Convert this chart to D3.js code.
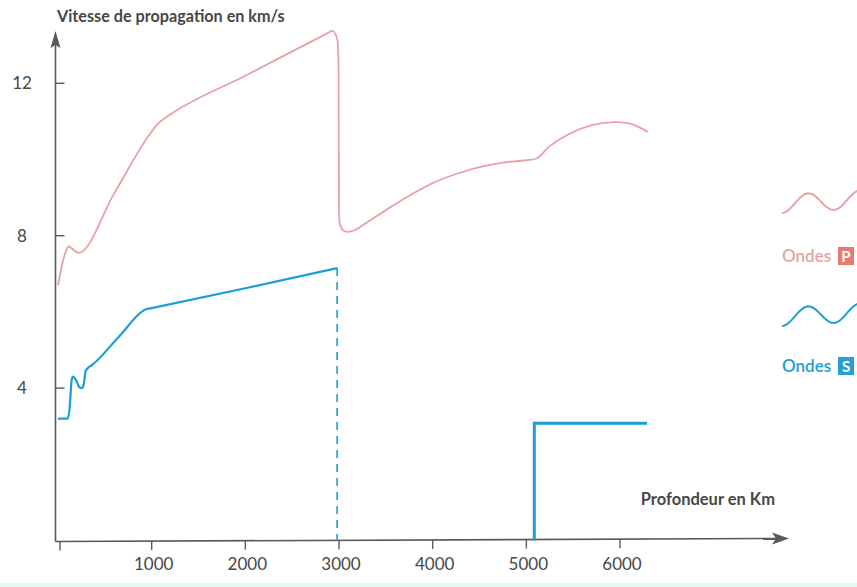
<!DOCTYPE html>
<html><head><meta charset="utf-8">
<script src="https://cdn.jsdelivr.net/npm/d3@7"></script>
<style>
html,body{margin:0;padding:0;background:#fff;}
svg{display:block;}
</style></head>
<body>
<svg id="chart" width="857" height="587"></svg>
<script>
// ---- data ----
const yTickValues = [4, 8, 12];
const yTickLabels = ["4", "8", "12"];
const xTickValues = [0, 1000, 2000, 3000, 4000, 5000, 6000];
const xTickLabels = ["", "1000", "2000", "3000", "4000", "5000", "6000"];
const pDepth = [0, 40, 85, 112, 140, 219, 600, 990, 1060, 1150, 1222, 2000, 2890, 2930, 2960, 2985, 2995, 3000, 3010, 3040, 3085, 3150, 3300, 3550, 3800, 4000, 4250, 4500, 4750, 5000, 5100, 5250, 5440, 5700, 5940, 6100, 6200, 6300];
const pSpeed = [6.7, 7.2, 7.6, 7.72, 7.68, 7.55, 9.11, 10.7, 10.92, 11.1, 11.22, 12.2, 13.33, 13.38, 13.3, 13.1, 12.6, 8.6, 8.3, 8.15, 8.1, 8.13, 8.35, 8.75, 9.12, 9.38, 9.62, 9.8, 9.92, 9.98, 10.02, 10.35, 10.65, 10.9, 10.98, 10.95, 10.85, 10.72];
const sDepth = [0, 105, 125, 145, 160, 190, 230, 255, 275, 295, 330, 360, 650, 940, 1000, 2000, 2980];
const sSpeed = [3.2, 3.2, 3.5, 4.2, 4.3, 4.22, 4.02, 4.0, 4.1, 4.45, 4.55, 4.6, 5.35, 6.07, 6.1, 6.62, 7.15];
const sCoreDepth = [5085, 5085, 6290];
const sCoreSpeed = [0, 3.08, 3.08];
const sGapDepth = [2980, 2980];
const sGapSpeed = [7.15, 0];

const svg = d3.select("#chart");
const x = d3.scaleLinear().domain([0, 6000]).range([58, 620]);
const y = d3.scaleLinear().domain([0, 12]).range([540.5, 83.3]);

const pink = "#e8a1a4", blue = "#1a9dd8", axisCol = "#5a5a5a", textCol = "#474747";

// bottom strip
svg.append("rect").attr("x", 0).attr("y", 583).attr("width", 857).attr("height", 4).attr("fill", "#e2f8f5");

// axes
const ox = x(0) - 2.5, oy = y(0) + 1;
svg.append("line").attr("x1", ox).attr("x2", ox).attr("y1", oy).attr("y2", 44)
  .attr("stroke", axisCol).attr("stroke-width", 1.6);
svg.append("path").attr("d", `M${ox},31 L${ox-5},48 L${ox},45 L${ox+5},48 Z`).attr("fill", axisCol);
svg.append("line").attr("x1", ox).attr("x2", 778).attr("y1", oy).attr("y2", oy - 3)
  .attr("stroke", axisCol).attr("stroke-width", 1.6);
svg.append("path").attr("d", `M789,${oy-3} L772,${oy-9} L776,${oy-3} L772,${oy+3} Z`).attr("fill", axisCol);

// y ticks
yTickValues.forEach((v, i) => {
  svg.append("line").attr("x1", ox).attr("x2", ox + 9).attr("y1", y(v)).attr("y2", y(v))
    .attr("stroke", axisCol).attr("stroke-width", 1.4);
  svg.append("text").attr("x", 22).attr("y", y(v) + 6).attr("text-anchor", "middle")
    .attr("font-family", "Lato").attr("font-size", 17).attr("fill", textCol).text(yTickLabels[i]);
});
// x ticks
xTickValues.forEach((v, i) => {
  const yy = oy - 3 * (x(v) - ox) / (778 - ox);
  svg.append("line").attr("x1", x(v) + (i === 0 ? 2 : 0)).attr("x2", x(v) + (i === 0 ? 2 : 0)).attr("y1", yy).attr("y2", yy + 9)
    .attr("stroke", axisCol).attr("stroke-width", 1.4);
  svg.append("text").attr("x", x(v) + 2).attr("y", 570).attr("text-anchor", "middle")
    .attr("font-family", "Lato").attr("font-size", 17).attr("fill", textCol).text(xTickLabels[i]);
});

// titles
svg.append("text").attr("x", 57).attr("y", 22).attr("font-family", "Lato").attr("font-weight", "bold")
  .attr("font-size", 16.2).attr("fill", textCol).text("Vitesse de propagation en km/s");
svg.append("text").attr("x", 775).attr("y", 505).attr("text-anchor", "end").attr("font-family", "Lato").attr("font-weight", "bold")
  .attr("font-size", 16.5).attr("fill", textCol).text("Profondeur en Km");

// curves
const line = d3.line().x(d => x(d[0])).y(d => y(d[1])).curve(d3.curveMonotoneX);
const straight = d3.line().x(d => x(d[0])).y(d => y(d[1]));
svg.append("path").attr("d", line(d3.zip(pDepth, pSpeed))).attr("fill", "none")
  .attr("stroke", pink).attr("stroke-width", 1.8).attr("stroke-linejoin", "round");
svg.append("path").attr("d", line(d3.zip(sDepth, sSpeed))).attr("fill", "none")
  .attr("stroke", blue).attr("stroke-width", 2.2).attr("stroke-linejoin", "round");
svg.append("path").attr("d", straight(d3.zip(sGapDepth, sGapSpeed))).attr("fill", "none")
  .attr("stroke", blue).attr("stroke-width", 1.6).attr("stroke-dasharray", "8,6");
svg.append("path").attr("d", straight(d3.zip(sCoreDepth, sCoreSpeed))).attr("fill", "none")
  .attr("stroke", blue).attr("stroke-width", 3);

// legend glyphs (decorative wave)
const wave = (y0) => {
  const pts = d3.range(0, 80, 1).map(t => [782 + t, y0 + 9 * Math.cos(2 * Math.PI * t / 52) - t * 0.06]);
  return d3.line()(pts);
};
const legend = [
  {y0: 204, ty: 262, col: pink, box: "#ea7b6c", letter: "P"},
  {y0: 317, ty: 372, col: blue, box: "#2a9cd8", letter: "S"}
];
legend.forEach(l => {
  svg.append("path").attr("d", wave(l.y0)).attr("fill", "none").attr("stroke", l.col).attr("stroke-width", 2);
  svg.append("text").attr("x", 782).attr("y", l.ty).attr("font-family", "Lato").attr("font-weight", "600")
    .attr("font-size", 17).attr("fill", l.col).text("Ondes");
  svg.append("rect").attr("x", 838).attr("y", l.ty - 15).attr("width", 16).attr("height", 18).attr("fill", l.box);
  svg.append("text").attr("x", 846).attr("y", l.ty).attr("text-anchor", "middle").attr("font-family", "Lato").attr("font-weight", "bold")
    .attr("font-size", 15).attr("fill", "#fff").text(l.letter);
});
</script>
</body></html>
